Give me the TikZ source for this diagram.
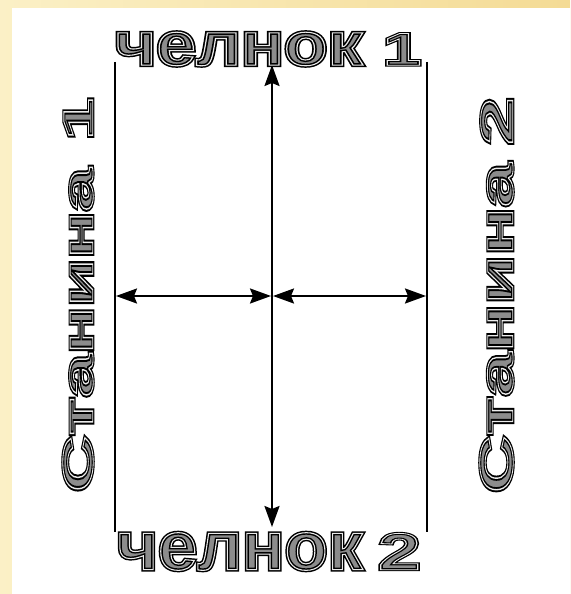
\documentclass[tikz,border=0pt]{standalone}
\usepackage{fontspec}
\setmainfont{Liberation Sans}
\usetikzlibrary{arrows.meta}
\definecolor{bgL}{HTML}{FBF0C6}
\definecolor{bgR}{HTML}{F4DB95}
\newcommand\outl[1]{\rlap{{\color[gray]{0.55}\special{pdf:code 2 Tr 3.0 w 0 G}#1\special{pdf:code 0 Tr}}}{\color[gray]{0.58}\special{pdf:code 1 Tr 0.8 w 0.92 G}#1\special{pdf:code 0 Tr}}}
\newcommand\lbl[6]{\resizebox{#3}{#4}{\outl{#1}}\hspace{#5}\scalebox{#6}[1]{\outl{#2}}}
\tikzset{
  frame/.style={line width=2.2pt, black},
  arr/.style={line width=2.2pt, black, {Stealth[length=21pt,width=15pt,inset=3pt]}-{Stealth[length=21pt,width=15pt,inset=3pt]}},
  lbl/.style={inner sep=0pt, outer sep=0pt, font=\bfseries}
}
\begin{document}
\begin{tikzpicture}[x=1pt,y=-1pt]
\useasboundingbox (0,0) rectangle (570,594);
\fill[left color=bgL, right color=bgR] (0,0) rectangle (570,594);
\fill[white] (12,8) rectangle (570,594);
% frame lines
\coordinate (lt) at (115,62);
\coordinate (lb) at (115,532);
\coordinate (rt) at (427,62);
\coordinate (rb) at (427,532);
\coordinate (ct) at (272,65);
\coordinate (cb) at (272,527);
\coordinate (hl) at (116,296);
\coordinate (hcl) at (271,296);
\coordinate (hcr) at (273,296);
\coordinate (hr) at (426,296);
\draw[frame] (lt) -- (lb);
\draw[frame] (rt) -- (rb);
\draw[arr] (ct) -- (cb);
\draw[arr] (hl) -- (hcl);
\draw[arr] (hcr) -- (hr);
% labels
\node[lbl, anchor=west, font=\bfseries\fontsize{46}{46}\selectfont] (ch1) at (115,49)
  {\lbl{челнок}{1}{248pt}{33pt}{20pt}{1.5}};
\node[lbl, anchor=west, font=\bfseries\fontsize{52}{52}\selectfont] (ch2) at (117,551.5)
  {\lbl{челнок}{2}{246pt}{37pt}{15pt}{1.48}};
\node[lbl, anchor=west, rotate=90, font=\bfseries\fontsize{42}{42}\selectfont] (st1) at (78,492)
  {\lbl{Станина}{1}{324pt}{30pt}{28pt}{1.8}};
\node[lbl, anchor=west, rotate=90, font=\bfseries\fontsize{46}{46}\selectfont] (st2) at (496.5,493)
  {\lbl{Станина}{2}{330pt}{33pt}{18pt}{1.87}};
\end{tikzpicture}
\end{document}
